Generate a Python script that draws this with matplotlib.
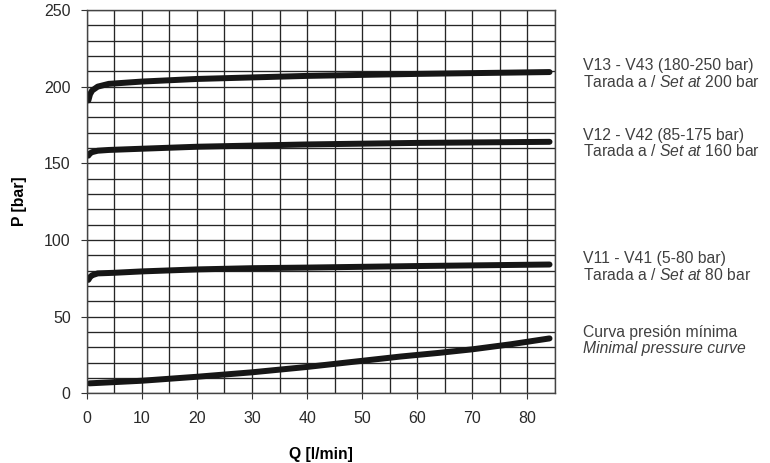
import numpy as np
import matplotlib
matplotlib.use("Agg")
import matplotlib.pyplot as plt

plt.rcParams['font.family'] = ['Liberation Sans', 'DejaVu Sans']
plt.rcParams['mathtext.fontset'] = 'custom'
plt.rcParams['mathtext.rm'] = 'Liberation Sans'
plt.rcParams['mathtext.it'] = 'Liberation Sans:italic'

# Curves: Q [l/min] -> P [bar]
q_v13 = [0.3, 0.6, 1, 2, 4, 10, 20, 40, 60, 84]
p_v13 = [191, 195, 197.5, 200, 201.8, 203.3, 205, 207, 208.3, 209.5]

q_v12 = [0.3, 0.6, 1, 2, 4, 10, 20, 40, 60, 84]
p_v12 = [155, 156.5, 157.3, 158.2, 158.7, 159.5, 160.8, 162.3, 163.3, 164]

q_v11 = [0.3, 0.6, 1, 2, 5, 10, 20, 30, 40, 60, 84]
p_v11 = [74, 75.8, 77, 78.2, 78.6, 79.5, 80.8, 81.6, 82, 83, 84]

q_min = [0.5, 10, 20, 30, 40, 50, 57, 64, 70, 77, 84]
p_min = [6.5, 8.2, 10.8, 13.7, 17.2, 21.2, 24, 26.4, 28.7, 32, 35.8]

# side labels: (y of first line, y of second line, heading, set pressure)
labels = [
    (213.6, 203.2, "V13 - V43 (180-250 bar)", "200"),
    (168.4, 158.0, "V12 - V42 (85-175 bar)", "160"),
    (87.9, 77.4, "V11 - V41 (5-80 bar)", "80"),
]

fig = plt.figure(figsize=(7.7, 4.63), dpi=100)
ax = fig.add_axes([0.1126, 0.1505, 0.6082, 0.828])

ax.set_xlim(0, 85)
ax.set_ylim(0, 250)
ax.set_xticks(np.arange(0, 81, 10))
ax.set_xticks(np.arange(0, 86, 5), minor=True)
ax.set_yticks(np.arange(0, 251, 50))
ax.set_yticks(np.arange(0, 251, 10), minor=True)
ax.grid(True, which='both', color='#262626', linewidth=0.95)
ax.tick_params(which='major', direction='out', length=4, width=0.8,
               color='#333333', labelsize=11.5, labelcolor='#2a2a2a')
ax.tick_params(axis='y', pad=7.5)
ax.tick_params(axis='x', pad=8.5)
ax.tick_params(which='minor', length=0)
for s in ax.spines.values():
    s.set_color('#444444')
    s.set_linewidth(1.0)
ax.set_axisbelow(True)

line_kw = dict(color='#161616', linewidth=4.3, solid_capstyle='round')
ax.plot(q_v13, p_v13, **line_kw)
ax.plot(q_v12, p_v12, **line_kw)
ax.plot(q_v11, p_v11, **line_kw)
ax.plot(q_min, p_min, **line_kw)

ax.set_ylabel("P [bar]", fontsize=11.3, fontweight='bold', labelpad=12)
ax.set_xlabel("Q [l/min]", fontsize=11.3, fontweight='bold', labelpad=15)

txt = dict(fontsize=11.3, color='#404040', transform=ax.transData,
           clip_on=False, va='center', ha='left')
x_txt = 90.0
for y1, y2, head, val in labels:
    ax.text(x_txt, y1, head, **txt)
    ax.text(x_txt, y2,
            r"$\mathrm{Tarada\ a\ /\ }\mathit{Set\ at}\mathrm{\ " + val + r"\ bar}$",
            **txt)
ax.text(x_txt, 39.5, "Curva presión mínima", **txt)
ax.text(x_txt, 29.0, "Minimal pressure curve", style='italic', **txt)

fig.savefig("out.png", dpi=100)
